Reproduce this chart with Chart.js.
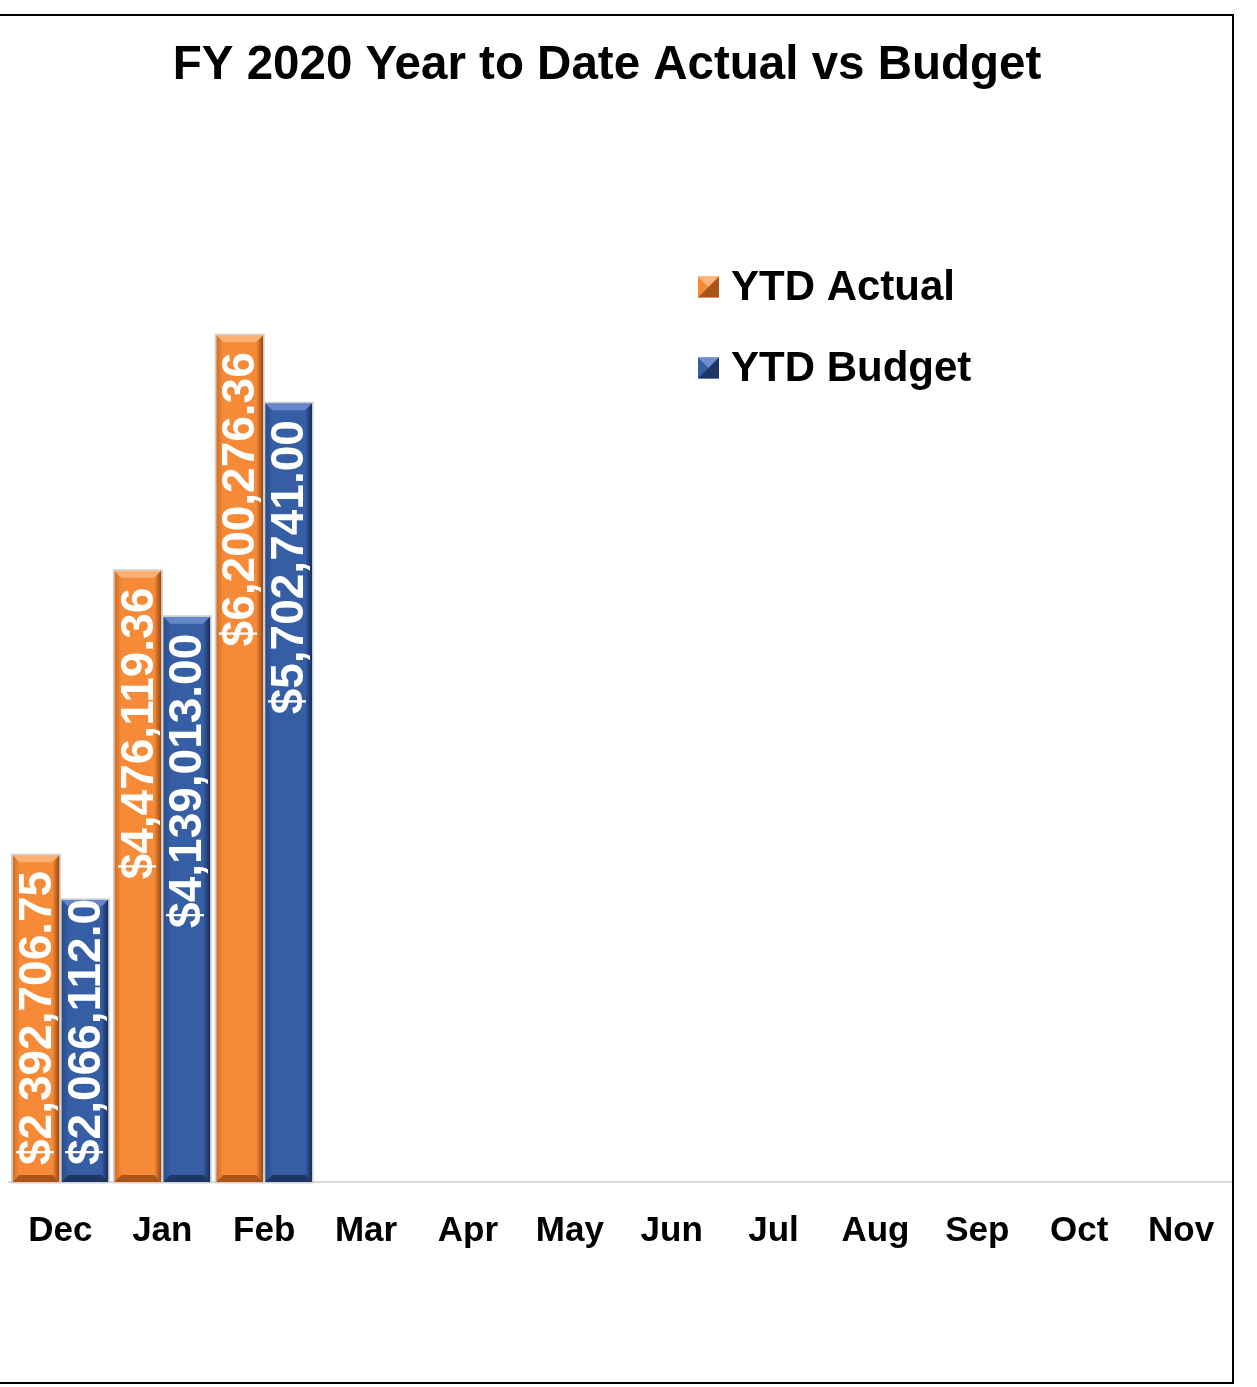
<!DOCTYPE html>
<html>
<head>
<meta charset="utf-8">
<script src="https://cdn.jsdelivr.net/npm/chart.js@4.4.1/dist/chart.umd.min.js"></script>
<style>
html,body{margin:0;padding:0;background:#fff;overflow:hidden;}
#wrap{position:relative;width:1257px;height:1387px;}
#frame{position:absolute;left:-2px;top:14px;width:1232px;height:1366px;border:2px solid #000;box-sizing:content-box;pointer-events:none;}
canvas{position:absolute;left:0;top:0;}
</style>
</head>
<body>
<div id="wrap">
<canvas id="c" width="1257" height="1387"></canvas>
<div id="frame"></div>
</div>
<script>
const categories = ["Dec","Jan","Feb","Mar","Apr","May","Jun","Jul","Aug","Sep","Oct","Nov"];
const ytdActual = [2392706.75, 4476119.36, 6200276.36, null, null, null, null, null, null, null, null, null];
const ytdBudget = [2066112.00, 4139013.00, 5702741.00, null, null, null, null, null, null, null, null, null];
const seriesNames = ["YTD Actual", "YTD Budget"];
const titleText = "FY 2020 Year to Date Actual vs Budget";

const COLORS = ["#F68A37", "#355EA5"];
const DARK = ["#8A3E0A", "#14254A"];
const LIGHT = ["#FBB57E", "#6E8FD0"];

function fmt(v){
  return "$" + v.toLocaleString("en-US",{minimumFractionDigits:2,maximumFractionDigits:2});
}

const FONT = "'Liberation Sans', Arial, sans-serif";

const extras = {
  id: "extras",
  afterDatasetsDraw(chart){
    const ctx = chart.ctx;
    chart.data.datasets.forEach((ds, di) => {
      const meta = chart.getDatasetMeta(di);
      meta.data.forEach((bar, i) => {
        const v = ds.data[i];
        if (v == null) return;
        const p = bar.getProps(["x","y","base","width"], true);
        const l = p.x - p.width/2, r = p.x + p.width/2, t = p.y, b = p.base;
        const bw = 7;
        ctx.save();
        ctx.fillStyle = LIGHT[di];
        ctx.globalAlpha = 0.85;
        ctx.beginPath();
        ctx.moveTo(l,t); ctx.lineTo(r,t); ctx.lineTo(r-bw,t+bw); ctx.lineTo(l+bw,t+bw); ctx.closePath(); ctx.fill();
        let g = ctx.createLinearGradient(r-bw,0,r,0);
        g.addColorStop(0, COLORS[di]); g.addColorStop(1, DARK[di]);
        ctx.globalAlpha = 0.9;
        ctx.fillStyle = g;
        ctx.beginPath();
        ctx.moveTo(r,t); ctx.lineTo(r,b); ctx.lineTo(r-bw,b-bw); ctx.lineTo(r-bw,t+bw); ctx.closePath(); ctx.fill();
        g = ctx.createLinearGradient(l,0,l+bw,0);
        g.addColorStop(0, DARK[di]); g.addColorStop(1, COLORS[di]);
        ctx.globalAlpha = 0.35;
        ctx.fillStyle = g;
        ctx.beginPath();
        ctx.moveTo(l,t); ctx.lineTo(l+bw,t+bw); ctx.lineTo(l+bw,b-bw); ctx.lineTo(l,b); ctx.closePath(); ctx.fill();
        ctx.globalAlpha = 0.7;
        ctx.fillStyle = DARK[di];
        ctx.beginPath();
        ctx.moveTo(l,b); ctx.lineTo(l+bw,b-bw); ctx.lineTo(r-bw,b-bw); ctx.lineTo(r,b); ctx.closePath(); ctx.fill();
        ctx.globalAlpha = 1;
        ctx.strokeStyle = "#d0d0d0";
        ctx.lineWidth = 1.5;
        ctx.strokeRect(l-0.75, t-0.75, (r-l)+1.5, (b-t)+1.5);
        ctx.restore();

        ctx.save();
        ctx.beginPath();
        ctx.rect(l, t, r-l, b-t);
        ctx.clip();
        ctx.font = "bold 46px " + FONT;
        const txt = fmt(v);
        const w = ctx.measureText(txt).width;
        const end = Math.min(t + 17 + w, b - 17);
        ctx.translate(p.x, end);
        ctx.rotate(-Math.PI/2);
        ctx.fillStyle = "#ffffff";
        ctx.textAlign = "left";
        ctx.textBaseline = "middle";
        ctx.fillText(txt, 0, 2);
        ctx.restore();
      });
    });
  },
  afterDraw(chart){
    const ctx = chart.ctx;
    ctx.save();
    ctx.fillStyle = "#000";
    ctx.font = "bold 47.5px " + FONT;
    ctx.textAlign = "center";
    ctx.textBaseline = "middle";
    ctx.fillText(titleText, 607, 66);
    ctx.font = "bold 42px " + FONT;
    ctx.textAlign = "left";
    const ys = [287, 368];
    seriesNames.forEach((n, i) => {
      const x0 = 698, s = 21, y0 = ys[i] - s/2;
      ctx.fillStyle = COLORS[i];
      ctx.fillRect(x0, y0, s, s);
      ctx.fillStyle = LIGHT[i];
      ctx.beginPath(); ctx.moveTo(x0,y0); ctx.lineTo(x0+s,y0); ctx.lineTo(x0+s/2,y0+s/2); ctx.closePath(); ctx.fill();
      ctx.fillStyle = DARK[i];
      ctx.globalAlpha = 0.7;
      ctx.beginPath(); ctx.moveTo(x0+s,y0); ctx.lineTo(x0+s,y0+s); ctx.lineTo(x0+s/2,y0+s/2); ctx.closePath(); ctx.fill();
      ctx.beginPath(); ctx.moveTo(x0,y0+s); ctx.lineTo(x0+s,y0+s); ctx.lineTo(x0+s/2,y0+s/2); ctx.closePath(); ctx.fill();
      ctx.globalAlpha = 1;
      ctx.fillStyle = "#000";
      ctx.fillText(n, 731, ys[i] + 1);
    });
    ctx.restore();
  }
};

new Chart(document.getElementById("c"), {
  type: "bar",
  data: {
    labels: categories,
    datasets: [
      { label: seriesNames[0], data: ytdActual, backgroundColor: COLORS[0], borderWidth: 0 },
      { label: seriesNames[1], data: ytdBudget, backgroundColor: COLORS[1], borderWidth: 0 }
    ]
  },
  options: {
    responsive: false,
    animation: false,
    devicePixelRatio: 1,
    layout: { padding: { top: 226, left: 8, right: 25, bottom: 107 } },
    plugins: { legend: { display: false }, title: { display: false }, tooltip: { enabled: false } },
    datasets: { bar: { categoryPercentage: 0.96, barPercentage: 0.96 } },
    scales: {
      x: {
        grid: { display: false, drawTicks: false },
        border: { display: true, color: "#d9d9d9", width: 2 },
        ticks: { color: "#000", padding: 28, font: { family: FONT, size: 35, weight: "bold" } }
      },
      y: {
        display: false,
        min: 0,
        max: 7000000
      }
    }
  },
  plugins: [extras]
});
</script>
</body>
</html>
